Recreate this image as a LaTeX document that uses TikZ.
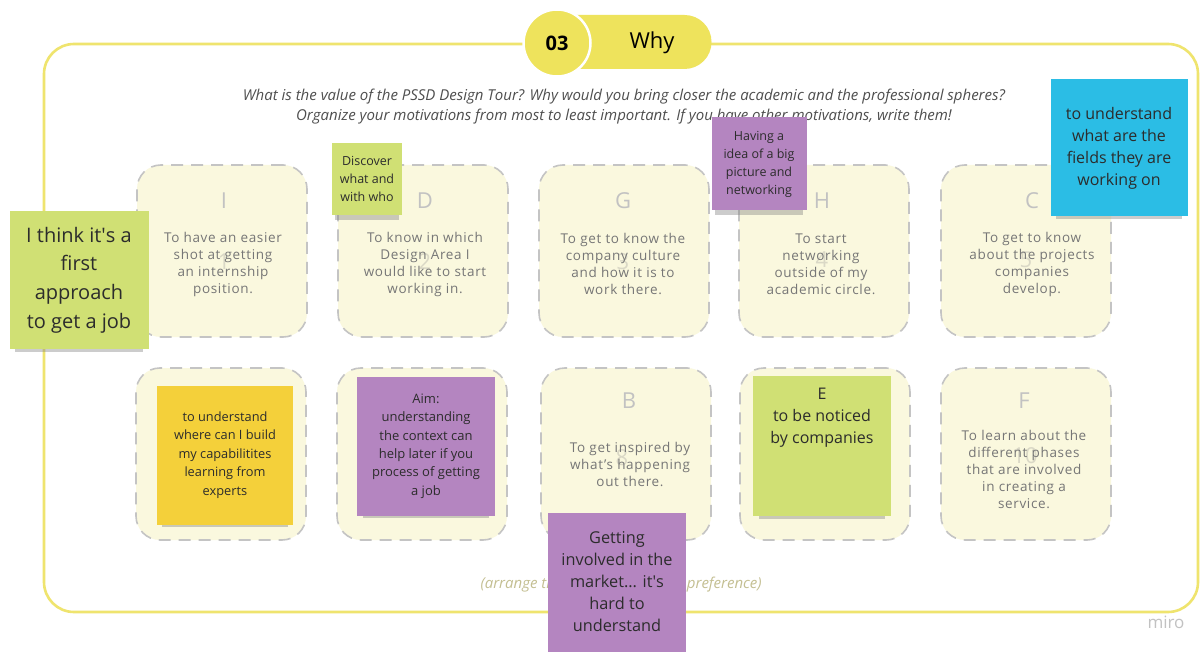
\documentclass[tikz,border=0pt]{standalone}
\usepackage{fontspec}
\setmainfont{Open Sans}
\usetikzlibrary{positioning,shadows,shapes.misc}

\definecolor{frameyellow}{HTML}{EFE46E}
\definecolor{titleyellow}{HTML}{EEE35C}
\definecolor{cardfill}{HTML}{FAF8DE}
\definecolor{dashgray}{HTML}{C4C4C4}
\definecolor{lettergray}{HTML}{C2C2C2}
\definecolor{cardgray}{HTML}{767676}
\definecolor{faintnum}{HTML}{DAD8C6}
\definecolor{asktext}{HTML}{4E4E4E}
\definecolor{hinttext}{HTML}{C4BF92}
\definecolor{stickytext}{HTML}{2C2C2C}
\definecolor{notegreen}{HTML}{D0E074}
\definecolor{noteyellow}{HTML}{F4D03A}
\definecolor{notepurple}{HTML}{B485C0}
\definecolor{noteblue}{HTML}{2BBDE5}

\tikzset{
  cardbox/.style={draw=dashgray, fill=cardfill, line width=1.6pt,
    dash pattern=on 12pt off 8pt, rounded corners=24pt,
    minimum width=170pt, minimum height=172pt},
  cardletter/.style={text=lettergray, font=\fontsize{22}{22}\selectfont},
  cardnum/.style={text=faintnum, font=\fontsize{22}{22}\selectfont},
  cardtext/.style={text=cardgray, align=center,
    font=\fontsize{13.5}{17}\selectfont\addfontfeatures{LetterSpace=5}},
  sticky/.style={fill=#1, align=center, text=stickytext, inner sep=1pt,
    minimum width=138pt, minimum height=138pt,
    drop shadow={shadow xshift=0pt, shadow yshift=-9pt, shadow scale=0.92, opacity=0.4}},
}

\begin{document}
\begin{tikzpicture}[x=1pt,y=-1pt]
\useasboundingbox (0,0) rectangle (1201,652);
\fill[white] (0,0) rectangle (1201,652);

% frame and title tab
\draw[frameyellow, line width=2.6pt, rounded corners=30pt] (44,44) rectangle (1198,612);
\node[rounded rectangle, rounded rectangle left arc=none, fill=titleyellow,
  minimum width=160pt, minimum height=54pt, anchor=west] (whytab) at (558,42) {};
\node[circle, fill=titleyellow, draw=white, line width=2.5pt, minimum size=67pt,
  font=\fontsize{20}{20}\selectfont\bfseries] (tabnum) at (557,43) {03};
\node[font=\fontsize{22}{22}\selectfont] (tabtitle) at (652,43) {Why};

\node[text=asktext, align=center, font=\fontsize{15}{20}\selectfont\itshape] (ask) at (624,107)
  {What is the value of the PSSD Design Tour? Why would you bring closer the academic and the professional spheres?\\
   Organize your motivations from most to least important. If you have other motivations, write them!};

% cards
\foreach \i/\x/\y in {1/222/251, 2/423/251, 3/624/251, 4/824/251, 5/1026/251,
                      6/221/454, 7/422/454, 8/626/454, 9/825/454, 10/1026/454}
  \node[cardbox] (card\i) at (\x,\y) {};

\node[cardletter] (letI) at (224,201) {I};
\node[cardletter] (letD) at (425,201) {D};
\node[cardletter] (letG) at (623,201) {G};
\node[cardletter] (letH) at (822,201) {H};
\node[cardletter] (letC) at (1032,201) {C};
\node[cardletter] (letB) at (629,401) {B};
\node[cardletter] (letF) at (1024,401) {F};

\node[cardnum] (num1) at (224,262) {1};
\node[cardnum] (num2) at (425,262) {2};
\node[cardnum] (num3) at (623,262) {3};
\node[cardnum] (num4) at (822,260) {4};
\node[cardnum] (num5) at (1026,260) {5};
\node[cardnum] (num8) at (622,458) {8};
\node[cardnum] (num10) at (1025,456) {10};

\node[cardtext] (txt1) at (223,264) {To have an easier\\shot at getting\\an internship\\position.};
\node[cardtext] (txt2) at (425,264) {To know in which\\Design Area I\\would like to start\\working in.};
\node[cardtext] (txt3) at (623,264) {To get to know the\\company culture\\and how it is to\\work there.};
\node[cardtext] (txt4) at (821,264) {To start\\networking\\outside of my\\academic circle.};
\node[cardtext] (txt5) at (1032,264) {To get to know\\about the projects\\companies\\develop.};
\node[cardtext] (txt8) at (630,464) {To get inspired by\\what’s happening\\out there.};
\node[cardtext] (txt10) at (1024,469) {To learn about the\\different phases\\that are involved\\in creating a\\service.};

\node[text=hinttext, anchor=west, font=\fontsize{15}{15}\selectfont\itshape] (hint) at (477,585)
  {(arrange them in your order of preference)};
\node[text=lettergray, font=\fontsize{17}{17}\selectfont] (miro) at (1166,622) {miro};

% sticky notes
\node[sticky=noteyellow, minimum width=136pt, minimum height=139pt,
  font=\fontsize{12.8}{18.5}\selectfont] (capab) at (225,455)
  {to understand\\where can I build\\my capabilitites\\learning from\\experts};
\node[sticky=notepurple, minimum height=139pt,
  font=\fontsize{13}{18.4}\selectfont] (aim) at (426,446)
  {Aim:\\understanding\\the context can\\help later if you\\process of getting\\a job};
\node[sticky=notegreen, minimum height=140pt] (noticed) at (822,446) {};
\node[text=stickytext, align=center, font=\fontsize{16}{22}\selectfont, below=9pt of noticed.north] (noticedtxt)
  {E\\to be noticed\\by companies};
\node[sticky=notepurple, minimum height=139pt,
  font=\fontsize{16.3}{22}\selectfont] (involved) at (617,582)
  {Getting\\involved in the\\market... it\textquotesingle s\\hard to\\understand};
\node[sticky=notegreen, minimum width=139pt,
  font=\fontsize{20}{28.7}\selectfont] (firstjob) at (79,280)
  {I think it\textquotesingle s a\\first\\approach\\to get a job};
\node[sticky=notegreen, minimum width=70pt, minimum height=72pt,
  font=\fontsize{12.5}{18}\selectfont] (discover) at (367,179)
  {Discover\\what and\\with who};
\node[sticky=notepurple, minimum width=95pt, minimum height=93pt,
  font=\fontsize{12.5}{18}\selectfont] (bigpic) at (759,164)
  {Having a\\idea of a big\\picture and\\networking};
\node[sticky=noteblue, minimum width=137pt, minimum height=137pt,
  font=\fontsize{16}{22}\selectfont] (fields) at (1119,148)
  {to understand\\what are the\\fields they are\\working on};
\end{tikzpicture}
\end{document}
